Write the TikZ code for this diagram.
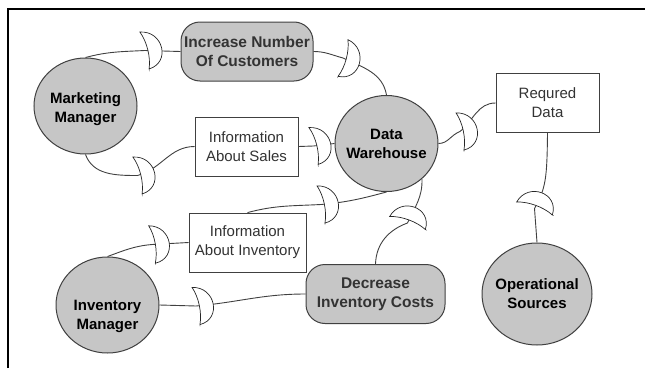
\documentclass[tikz,border=0pt]{standalone}
\usepackage{fontspec}
\setmainfont{Liberation Sans}
\usetikzlibrary{shapes.geometric}
\definecolor{nodegray}{RGB}{198,198,198}
\definecolor{edgegray}{RGB}{64,64,64}
\tikzset{
	actor/.style={draw=edgegray,fill=nodegray,shape=ellipse,line width=1pt,inner sep=-15pt,minimum width=103pt,minimum height=96pt,align=center,font=\fontsize{15}{19}\selectfont\bfseries},
	goal/.style={draw=edgegray,fill=nodegray,rounded corners=19pt,line width=1pt,inner sep=0pt,minimum height=59pt,align=center,text=black!80,font=\fontsize{15.5}{19}\selectfont\bfseries},
	resource/.style={draw=edgegray,fill=white,line width=.8pt,inner sep=0pt,minimum height=59pt,align=center,text=black!80,font=\fontsize{15}{19}\selectfont},
	link/.style={draw=edgegray,line width=.9pt},
	halfmoon/.pic={\draw[draw=black!85,fill=white,line width=.7pt] (0,-19) .. controls (23,-18) and (23,15) .. (0,19) .. controls (4.5,8) and (4.5,-8) .. cycle;}
}
\begin{document}
\begin{tikzpicture}[x=1pt,y=1pt]
\useasboundingbox (0,0) rectangle (645,368);
\draw[line width=2pt] (8,0) -- (8,359) -- (645,359);

\node[actor] (marketing) at (85.5,262) {\mbox{}\\[-1pt]Marketing\\Manager};
\node[actor] (warehouse) at (386.5,224.5) {Data\\Warehouse};
\node[actor] (inventory) at (107.5,63) {\mbox{}\\[15pt]Inventory\\Manager};
\node[actor,minimum width=110pt,minimum height=102pt] (sources) at (537,74) {Operational\\Sources};

\node[goal,minimum width=132pt] (customers) at (247,316.5) {Increase Number\\Of Customers};
\node[goal,minimum width=139pt] (costs) at (375.5,74) {Decrease\\Inventory Costs};

\node[resource,minimum width=103pt] (sales) at (246.5,221.5) {Information\\About Sales};
\node[resource,minimum width=117pt] (stock) at (247.5,125.5) {Information\\About Inventory};
\node[resource,minimum width=103pt] (required) at (547.5,265) {Requred\\Data};

\coordinate (mA) at (144.5,317.5);
\coordinate (mB) at (343,310);
\coordinate (mC) at (137.5,192.5);
\coordinate (mD) at (313.5,222);
\coordinate (mE) at (460,236.5);
\coordinate (mF) at (534.5,159.5);
\coordinate (mG) at (407.5,145);
\coordinate (mH) at (321,163.5);
\coordinate (mI) at (152,123.5);
\coordinate (mJ) at (196,62);

\draw[link] (marketing.north) to[out=15,in=183] (mA) -- (customers.west);
\draw[link] (customers.east) to[out=0,in=165] (mB) to[out=-25,in=100] (warehouse.north);
\draw[link] (marketing.south) to[out=-70,in=180] (mC) to[out=15,in=180] (sales.west);
\draw[link] (sales.east) -- (mD) -- (warehouse.west);
\draw[link] (warehouse.east) to[out=0,in=200] (mE) to[out=40,in=180] (required.west);
\draw[link] (required.south) .. controls (547,190) and (546,180) .. (mF) -- (sources.north);
\draw[link] (warehouse.-45) to[out=-88,in=65] (mG) to[out=200,in=88] (costs.north);
\draw[link] (stock.north) to[out=15,in=183] (mH) to[out=5,in=195] (warehouse.south);
\draw[link] (inventory.north) to[out=20,in=185] (mI) -- (stock.west);
\draw[link] (inventory.east) -- (mJ) to[out=5,in=180] (costs.west);

\foreach \m/\a in {mA/14,mB/-15,mC/14,mD/14,mE/12,mF/70,mG/70,mH/12,mI/10,mJ/12} {
	\pic[rotate=\a] at (\m) {halfmoon};
};
\end{tikzpicture}
\end{document}
